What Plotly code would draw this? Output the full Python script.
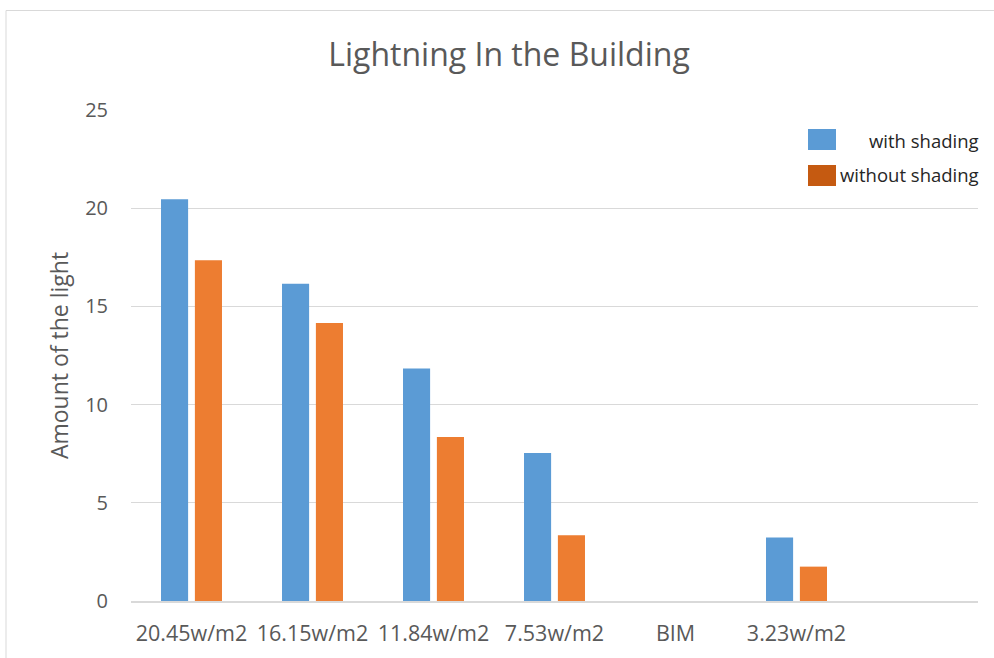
import plotly.graph_objects as go

categories = ["20.45w/m2", "16.15w/m2", "11.84w/m2", "7.53w/m2", "BIM", "3.23w/m2", " "]
with_shading = [20.45, 16.15, 11.84, 7.53, None, 3.23, None]
without_shading = [17.35, 14.15, 8.35, 3.35, None, 1.75, None]
y_ticks = [0, 5, 10, 15, 20, 25]

BLUE = "#5b9bd5"
ORANGE = "#ed7d31"
LEGEND_ORANGE = "#c55a11"
TEXT = "#595959"
GRID = "#d9d9d9"
FONT = "Open Sans, sans-serif"

W, H = 994, 658
L, R, T, B = 131, 16, 110, 57
pw, ph = W - L - R, H - T - B


def px_x(x):
    return (x - L) / pw


def px_y(y):
    return (H - B - y) / ph


fig = go.Figure()
fig.add_trace(go.Bar(x=categories, y=with_shading, name="with shading",
                     marker=dict(color=BLUE, line=dict(width=0))))
fig.add_trace(go.Bar(x=categories, y=without_shading, name="without shading",
                     marker=dict(color=ORANGE, line=dict(width=0))))

shapes = [
    # outer chart border
    dict(type="rect", xref="paper", yref="paper",
         x0=px_x(6), x1=px_x(1100), y0=px_y(800), y1=px_y(10.5),
         line=dict(color=GRID, width=1), fillcolor="rgba(0,0,0,0)", layer="below"),
    # legend swatches
    dict(type="rect", xref="paper", yref="paper",
         x0=px_x(808), x1=px_x(836), y0=px_y(150), y1=px_y(129),
         line=dict(width=0), fillcolor=BLUE),
    dict(type="rect", xref="paper", yref="paper",
         x0=px_x(808), x1=px_x(836), y0=px_y(186), y1=px_y(165),
         line=dict(width=0), fillcolor=LEGEND_ORANGE),
]

annotations = [
    dict(text="with shading", xref="paper", yref="paper", x=px_x(981), y=px_y(140.5),
         xanchor="right", yanchor="middle", showarrow=False,
         font=dict(family=FONT, size=18.5, color="#262626")),
    dict(text="without shading", xref="paper", yref="paper", x=px_x(981), y=px_y(174.5),
         xanchor="right", yanchor="middle", showarrow=False,
         font=dict(family=FONT, size=18.5, color="#262626")),
]

fig.update_layout(
    width=W, height=H,
    margin=dict(l=L, r=R, t=T, b=B, autoexpand=False),
    paper_bgcolor="white", plot_bgcolor="white",
    showlegend=False,
    barmode="group", bargap=0.44, bargroupgap=0.2,
    title=dict(text="Lightning In the Building", x=509 / W, xref="container", xanchor="center",
               y=1 - 55 / H, yref="container", yanchor="middle",
               font=dict(family=FONT, size=32, color=TEXT)),
    font=dict(family=FONT, color=TEXT),
    shapes=shapes,
    annotations=annotations,
)

fig.update_xaxes(type="category", categoryorder="array", categoryarray=categories,
                 showline=True, linecolor=GRID, linewidth=2, showgrid=False,
                 ticks="", ticklabelstandoff=12,
                 tickfont=dict(family=FONT, size=21.5, color=TEXT))
fig.update_yaxes(range=[0, 25], tickvals=y_ticks, showgrid=True, gridcolor=GRID, gridwidth=1,
                 zeroline=False, showline=False, ticks="", ticklabelstandoff=22,
                 tickfont=dict(family=FONT, size=20, color=TEXT),
                 title=dict(text="Amount of the light", standoff=10,
                            font=dict(family=FONT, size=23, color=TEXT)))

fig.write_html("out.html")
